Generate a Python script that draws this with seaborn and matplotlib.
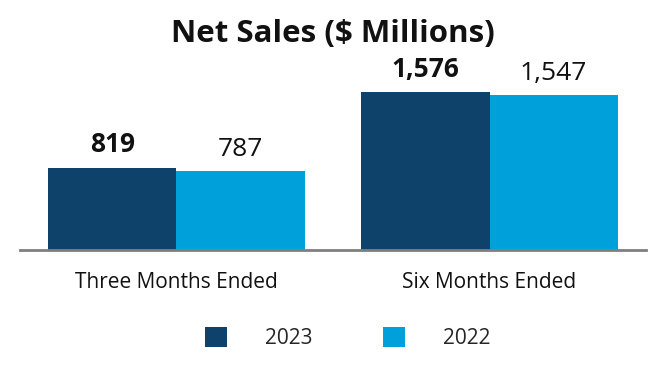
import seaborn as sns
import matplotlib.pyplot as plt
import pandas as pd
from matplotlib.patches import Patch

periodos = ['Three Months Ended', 'Six Months Ended']
anos = ['2023', '2022']
vendas_2023 = [819, 1576]
vendas_2022 = [787, 1547]
cores = {'2023': '#0f426b', '2022': '#00a0db'}

dados = pd.DataFrame({
    'periodo': periodos * 2,
    'ano': ['2023'] * len(periodos) + ['2022'] * len(periodos),
    'vendas': vendas_2023 + vendas_2022,
})

sns.set_style('white')
plt.rcParams['font.family'] = ['Open Sans', 'DejaVu Sans']

fig = plt.figure(figsize=(6.66, 3.80), dpi=100)
ax = fig.add_axes([0.03, 0.342, 0.94, 0.474])

sns.barplot(data=dados, x='periodo', y='vendas', hue='ano', hue_order=anos,
            palette=cores, width=0.82, saturation=1, linewidth=0, ax=ax,
            legend=False)

ax.set_ylim(0, 1800)
ax.set_xlim(-0.5, 1.5)
ax.set_xlabel('')
ax.set_ylabel('')
ax.set_yticks([])
ax.tick_params(axis='x', length=0, labelsize=15, pad=16, colors='#111111')
for lado in ['top', 'left', 'right']:
    ax.spines[lado].set_visible(False)
ax.spines['bottom'].set_color('#7f7f7f')
ax.spines['bottom'].set_linewidth(2)

for container, ano in zip(ax.containers, anos):
    ax.bar_label(container, labels=[f'{v:,.0f}' for v in container.datavalues],
                 padding=7, fontsize=19,
                 fontweight='bold' if ano == '2023' else 'normal',
                 color='#111111')

fig.suptitle('Net Sales ($ Millions)', fontsize=22.5, fontweight='bold',
             y=0.95, color='#111111')

alcas = [Patch(facecolor=cores[a], edgecolor='none') for a in anos]
fig.legend(alcas, anos, loc='center', bbox_to_anchor=(0.522, 0.11),
           ncol=2, frameon=False, fontsize=15, handlelength=1.06,
           handleheight=1.06, handletextpad=1.83, columnspacing=3.4)

plt.savefig('out.png', dpi=100)
plt.close()
